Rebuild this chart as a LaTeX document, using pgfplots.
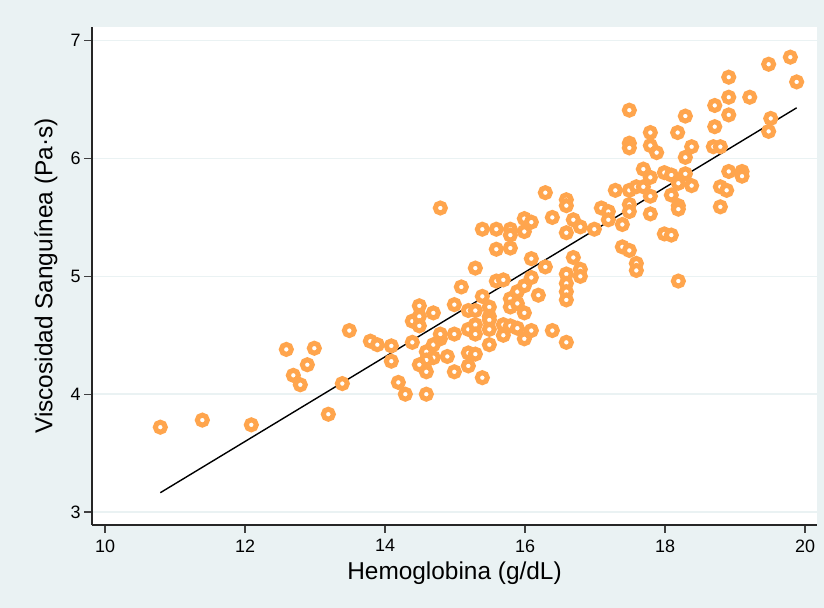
\documentclass[border=0pt]{standalone}
\usepackage{fontspec}
\setmainfont{Liberation Sans}
\usepackage{pgfplots}
\usepackage{pgfplotstable}
\pgfplotsset{compat=1.18}
\definecolor{bgc}{RGB}{234,242,243}
\definecolor{gridc}{RGB}{234,242,243}
\definecolor{mk}{RGB}{255,165,77}
\pgfplotstableread{
x y
10.79 3.72
11.39 3.78
12.09 3.74
12.59 4.38
12.69 4.16
12.79 4.08
12.89 4.25
12.99 4.39
13.19 3.83
13.39 4.09
13.49 4.54
13.79 4.45
13.89 4.42
14.09 4.41
14.09 4.28
14.19 4.10
14.29 4.00
14.39 4.44
14.39 4.62
14.49 4.75
14.49 4.66
14.49 4.58
14.69 4.69
14.79 5.58
14.69 4.42
14.79 4.47
14.59 4.36
14.69 4.31
14.59 4.29
14.49 4.25
14.89 4.32
14.59 4.19
14.59 4.00
14.79 4.51
14.99 4.51
14.99 4.76
15.09 4.91
14.99 4.19
15.19 4.71
15.29 4.71
15.19 4.55
15.29 4.59
15.29 4.51
15.19 4.35
15.29 4.34
15.19 4.24
15.39 4.14
15.39 4.83
15.29 5.07
15.39 5.40
15.49 4.74
15.49 4.66
15.49 4.63
15.49 4.55
15.49 4.42
15.59 5.40
15.59 5.23
15.59 4.96
15.69 4.97
15.69 4.59
15.69 4.50
15.79 5.40
15.79 5.35
15.79 5.24
15.79 4.81
15.79 4.74
15.79 4.58
15.89 4.87
15.89 4.77
15.89 4.56
15.99 5.49
15.99 5.38
15.99 4.92
15.99 4.69
15.99 4.47
16.09 5.46
16.09 5.15
16.09 4.99
16.09 4.54
16.19 4.84
16.29 5.71
16.29 5.08
16.39 5.50
16.39 4.54
16.59 5.65
16.59 5.60
16.59 5.37
16.59 5.02
16.59 4.94
16.59 4.87
16.59 4.80
16.59 4.44
16.69 5.48
16.69 5.16
16.79 5.42
16.79 5.06
16.79 5.00
16.99 5.40
17.09 5.58
17.19 5.55
17.19 5.48
17.29 5.73
17.39 5.44
17.39 5.25
17.49 6.41
17.49 6.13
17.49 6.09
17.49 5.73
17.49 5.61
17.49 5.55
17.49 5.22
17.59 5.76
17.59 5.11
17.59 5.05
17.69 5.91
17.69 5.76
17.79 6.22
17.79 6.11
17.79 5.84
17.79 5.68
17.79 5.53
17.88 6.05
17.99 5.88
17.99 5.36
18.09 5.86
18.09 5.69
18.09 5.35
18.18 6.22
18.19 5.79
18.19 5.60
18.19 5.57
18.19 4.96
18.29 6.36
18.29 6.01
18.29 5.87
18.38 6.10
18.38 5.77
18.69 6.10
18.71 6.45
18.71 6.27
18.79 6.10
18.79 5.76
18.79 5.59
18.88 5.73
18.91 6.69
18.91 6.52
18.91 6.37
18.91 5.89
19.10 5.89
19.10 5.85
19.21 6.52
19.48 6.80
19.48 6.23
19.51 6.34
19.79 6.86
19.88 6.65
}\scatterdata
\begin{document}
\begin{tikzpicture}[x=1bp,y=1bp]
\fill[bgc] (0,0) rectangle (824,608);
\useasboundingbox (0,0) rectangle (824,608);
\begin{axis}[
  at={(92bp,83bp)}, anchor=south west,
  scale only axis, width=725bp, height=498bp,
  xmin=9.814, xmax=20.171, ymin=2.890, ymax=7.116,
  axis background/.style={fill=white},
  axis x line*=bottom, axis y line*=left,
  axis line style={line width=1.3bp, black!85},
  xtick={10,12,14,16,18,20}, ytick={3,4,5,6,7},
  tick align=outside, major tick length=8bp,
  tick style={line width=1.1bp, black!75},
  ymajorgrids, grid style={line width=1.5bp, gridc},
  /pgf/number format/assume math mode=true,
  tick label style={font=\fontsize{18}{20}\selectfont},
  xticklabel style={yshift=-3bp},
  label style={font=\fontsize{24.5}{26}\selectfont},
  xlabel={Hemoglobina (g/dL)},
  ylabel={Viscosidad Sanguínea (Pa·s)},
  xlabel style={at={(axis description cs:0.5,-0.1104)}, anchor=base},
  ylabel style={at={(axis description cs:-0.0635,0.5)}, anchor=center},
]
\addplot[only marks, mark=*, mark size=5.0bp, mark options={draw=mk, fill=white, line width=5.0bp}] table[x=x,y=y] {\scatterdata};
\addplot[black, line width=1.4bp, no marks] coordinates {(10.79,3.164) (19.88,6.43)};
\end{axis}
\end{tikzpicture}
\end{document}
